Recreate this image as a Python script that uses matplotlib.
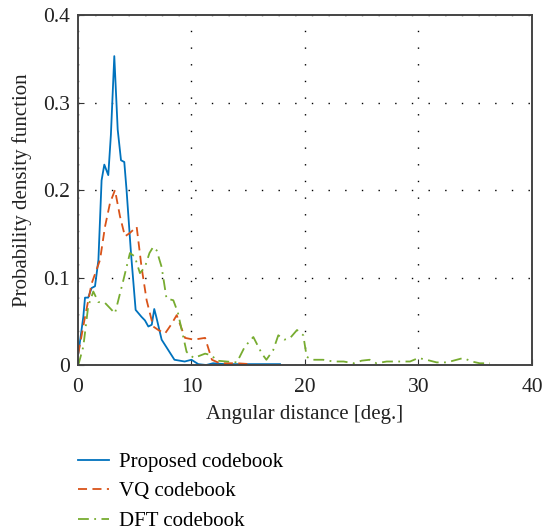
import numpy as np
import matplotlib
matplotlib.use("Agg")
import matplotlib.pyplot as plt

plt.rcParams['font.family'] = ['Liberation Serif', 'DejaVu Serif']

# Proposed codebook
prop_x = [0.03, 0.47, 0.62, 0.9, 1.2, 1.5, 1.8, 2.08, 2.32, 2.67, 2.9, 3.2, 3.5, 3.79, 4.08,
          4.28, 4.67, 5.08, 5.6, 5.9, 6.2, 6.5, 6.72, 6.9, 7.37, 7.96, 8.5, 9.4, 10.0, 10.6,
          11.3, 11.9, 13.0, 15.0, 17.8]
prop_y = [0.013, 0.055, 0.077, 0.077, 0.088, 0.09, 0.12, 0.211, 0.229, 0.217, 0.263, 0.353,
          0.269, 0.234, 0.232, 0.2, 0.128, 0.063, 0.055, 0.051, 0.044, 0.046, 0.064, 0.055,
          0.029, 0.017, 0.006, 0.004, 0.006, 0.001, 0.0, 0.002, 0.001, 0.001, 0.001]

# VQ codebook
vq_x = [0.03, 0.62, 1.2, 1.94, 2.38, 2.82, 3.26, 3.7, 4.14, 4.58, 5.17, 5.6, 6.05, 6.63,
        7.08, 7.67, 8.2, 8.7, 9.43, 10.2, 11.2, 11.8, 12.5, 14.0, 15.2]
vq_y = [0.013, 0.055, 0.093, 0.12, 0.158, 0.185, 0.2, 0.17, 0.147, 0.151, 0.158, 0.112,
        0.074, 0.044, 0.04, 0.036, 0.046, 0.057, 0.031, 0.029, 0.031, 0.006, 0.002, 0.002, 0.001]

# DFT codebook
dft_x = [0.03, 0.47, 0.9, 1.35, 1.79, 2.38, 3.26, 4.0, 4.58, 5.0, 5.46, 5.9, 6.3, 6.63,
         6.93, 7.37, 7.8, 8.4, 8.8, 9.57, 10.2, 11.2, 11.8, 12.2, 13.1, 14.0, 14.7, 15.45,
         16.2, 16.6, 17.2, 17.65, 18.2, 18.7, 19.3, 19.85, 20.15, 20.6, 21.6, 22.5, 23.4,
         24.3, 25.0, 25.7, 26.3, 27.2, 28.4, 29.25, 30.0, 30.7, 31.6, 32.5, 33.95, 34.7,
         35.4, 36.3]
dft_y = [0.0, 0.021, 0.067, 0.084, 0.072, 0.071, 0.059, 0.097, 0.128, 0.124, 0.105, 0.112,
         0.128, 0.135, 0.131, 0.112, 0.076, 0.074, 0.06, 0.015, 0.008, 0.013, 0.011, 0.005,
         0.004, 0.003, 0.021, 0.032, 0.013, 0.006, 0.017, 0.034, 0.029, 0.031, 0.04, 0.034,
         0.0095, 0.006, 0.006, 0.004, 0.004, 0.002, 0.005, 0.006, 0.002, 0.004, 0.004, 0.004,
         0.008, 0.006, 0.003, 0.003, 0.008, 0.004, 0.002, 0.002]

fig = plt.figure(figsize=(5.43, 5.30), dpi=100)
ax = fig.add_axes([0.1436, 0.3113, 0.8361, 0.6604])

l1, = ax.plot(prop_x, prop_y, '-', color='#0072BD', lw=1.3, label='Proposed codebook')
l2, = ax.plot(vq_x, vq_y, '--', color='#D95319', lw=1.3, dashes=(5, 3), label='VQ codebook')
l3, = ax.plot(dft_x, dft_y, '-.', color='#77AC30', lw=1.3, dashes=(6, 3, 1, 3), label='DFT codebook')

ax.set_xlim(0, 40)
ax.set_ylim(0, 0.4)
ax.set_xticks([0, 10, 20, 30, 40])
ax.set_yticks([0, 0.1, 0.2, 0.3, 0.4])
ax.set_yticklabels(['0', '0.1', '0.2', '0.3', '0.4'])
ax.tick_params(direction='in', length=4, labelsize=15.5, color='#333333',
               labelcolor='#222222', pad=6)
ax.tick_params(axis='x', pad=9)
ax.grid(True, linestyle=(0, (1, 11)), color='black', lw=1.0)
for s in ax.spines.values():
    s.set_color('#444444')
    s.set_linewidth(1.4)

ax.set_xlabel('Angular distance [deg.]', fontsize=15, color='#222222', labelpad=6)
ax.set_ylabel('Probability density function', fontsize=15, color='#222222', labelpad=8)

fig.legend(handles=[l1, l2, l3], loc='upper left', bbox_to_anchor=(0.129, 0.162),
           frameon=False, fontsize=15, handlelength=1.45, labelspacing=0.47,
           handletextpad=0.5, borderaxespad=0)

fig.savefig('out.png', dpi=100)
